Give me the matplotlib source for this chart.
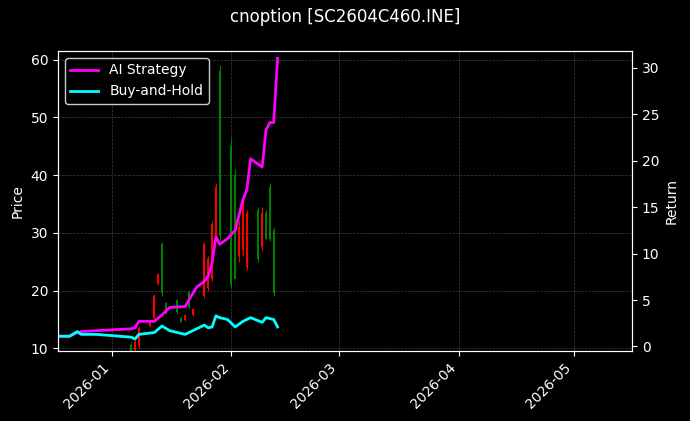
import matplotlib
matplotlib.use("Agg")
import matplotlib.pyplot as plt
import matplotlib.dates as mdates
import pandas as pd

# candles: date, open, high, low, close
candle_dates = ["2025-12-18", "2026-01-06", "2026-01-07", "2026-01-08", "2026-01-11", "2026-01-12",
                "2026-01-13", "2026-01-14", "2026-01-15", "2026-01-18", "2026-01-19", "2026-01-20",
                "2026-01-21", "2026-01-22", "2026-01-25", "2026-01-26", "2026-01-27", "2026-01-28",
                "2026-01-29", "2026-02-01", "2026-02-02", "2026-02-03", "2026-02-04", "2026-02-05",
                "2026-02-08", "2026-02-09", "2026-02-10", "2026-02-11", "2026-02-12"]
opens  = [10.2, 9.5, 11.0, 13.5, 14.8, 19.0, 22.8, 19.5, 16.5, 16.2, 14.6, 15.8, 17.2, 16.8, 28.0, 25.5, 31.5, 38.0, 29.5, 21.0, 22.0, 31.0, 35.0, 33.5, 25.5, 33.5, 29.0, 29.0, 19.5]
highs  = [11.0, 11.0, 11.5, 13.8, 15.0, 19.4, 23.0, 28.4, 18.0, 18.6, 15.5, 16.0, 20.0, 17.0, 28.4, 26.0, 32.0, 38.7, 59.0, 46.4, 41.0, 32.0, 36.0, 34.0, 34.5, 34.5, 34.0, 38.7, 31.0]
lows   = [10.0, 9.0, 9.5, 10.0, 13.6, 15.0, 21.0, 19.0, 16.0, 16.0, 14.5, 14.7, 17.0, 15.5, 18.7, 20.0, 21.7, 29.0, 28.8, 20.5, 22.0, 25.0, 26.0, 23.5, 25.0, 27.0, 29.0, 28.5, 19.0]
closes = [10.8, 10.5, 9.7, 10.5, 13.8, 15.2, 21.2, 28.0, 17.8, 18.4, 15.3, 14.9, 19.8, 15.8, 19.0, 20.5, 22.0, 29.5, 58.0, 45.0, 40.0, 26.0, 27.0, 24.0, 34.0, 27.5, 33.5, 38.0, 30.5]

line_dates = ["2025-12-18", "2025-12-21", "2025-12-23", "2025-12-24", "2025-12-28", "2026-01-06",
              "2026-01-07", "2026-01-08", "2026-01-12", "2026-01-14", "2026-01-16", "2026-01-20",
              "2026-01-23", "2026-01-25", "2026-01-26", "2026-01-27", "2026-01-28", "2026-01-29",
              "2026-01-31", "2026-02-02", "2026-02-04", "2026-02-05", "2026-02-06", "2026-02-09",
              "2026-02-10", "2026-02-11", "2026-02-12", "2026-02-13"]
ai_strategy = [1.1, 1.1, 1.5, 1.6, 1.7, 1.9, 2.0, 2.7, 2.7, 3.4, 4.2, 4.3, 6.4, 7.0, 7.6, 9.0, 11.8, 11.0,
               11.6, 12.5, 15.8, 16.8, 20.2, 19.3, 23.3, 24.1, 24.1, 31.0]
buy_hold = [1.1, 1.1, 1.6, 1.3, 1.3, 1.0, 0.8, 1.3, 1.5, 2.2, 1.7, 1.3, 1.9, 2.3, 2.0, 2.1, 3.3, 3.1,
            2.9, 2.1, 2.7, 2.9, 3.1, 2.6, 3.1, 3.0, 2.9, 2.1]

plt.style.use("dark_background")
fig, ax = plt.subplots(figsize=(6.9, 4.21), dpi=100)
fig.patch.set_facecolor("black")
ax.set_facecolor("black")

cd = pd.to_datetime(candle_dates)
for d, o, h, l, c in zip(cd, opens, highs, lows, closes):
    col = "green" if c >= o else "red"
    ax.vlines(d, l, h, color=col, linewidth=0.8)
    ax.bar(d, abs(c - o), bottom=min(o, c), width=0.5, color=col)

ax.set_ylabel("Price")
ax.set_ylim(9.5, 61.5)
ax.grid(True, linestyle="--", linewidth=0.5, color="gray", alpha=0.5)

ax2 = ax.twinx()
ld = pd.to_datetime(line_dates)
ax2.plot(ld, ai_strategy, color="magenta", linewidth=2, label="AI Strategy")
ax2.plot(ld, buy_hold, color="cyan", linewidth=2, label="Buy-and-Hold")
ax2.set_ylabel("Return")
ax2.set_ylim(-0.5, 31.8)
ax2.legend(loc="upper left", facecolor="black", edgecolor="white")

ax.set_xlim(pd.Timestamp("2025-12-18"), pd.Timestamp("2026-05-16"))
ax.xaxis.set_major_locator(mdates.MonthLocator())
ax.xaxis.set_major_formatter(mdates.DateFormatter("%Y-%m"))
plt.setp(ax.get_xticklabels(), rotation=45, ha="right")

fig.suptitle("cnoption [SC2604C460.INE]", y=0.98)
fig.subplots_adjust(left=0.084, right=0.916, top=0.879, bottom=0.166)
fig.savefig("out.png", dpi=100, facecolor="black")
